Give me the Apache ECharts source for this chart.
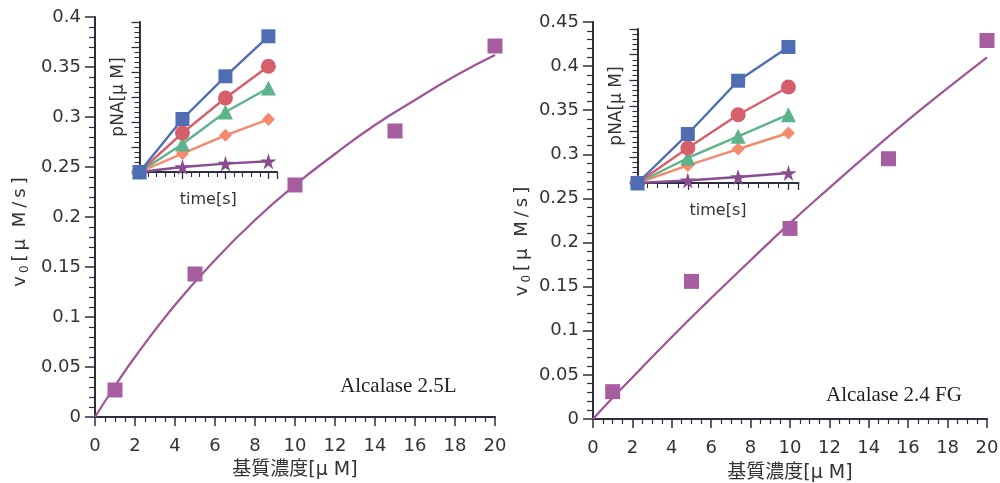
<!DOCTYPE html>
<html><head><meta charset="utf-8">
<script src="https://cdn.jsdelivr.net/npm/echarts@6/dist/echarts.min.js"></script>
<style>html,body{margin:0;padding:0;background:#fff}#c{width:1000px;height:483px}</style>
</head><body><div id="c"></div>
<script>
// ---- main panels: substrate concentration vs v0 ----
const substrate = [1, 5, 10, 15, 20];
const v0Left = [0.027, 0.143, 0.232, 0.286, 0.371];
const v0Right = [0.031, 0.156, 0.216, 0.295, 0.429];
// fitted curves
const fitX = [0, 1, 2, 4, 6, 8, 10, 12, 14, 16, 18, 20];
const fitLeft = [0, 0.031, 0.060, 0.112, 0.157, 0.197, 0.232, 0.263, 0.292, 0.317, 0.341, 0.362];
const fitRight = [0, 0.024, 0.047, 0.093, 0.137, 0.180, 0.222, 0.262, 0.301, 0.339, 0.375, 0.410];
// ---- insets: time vs pNA ----
const times = [0, 10, 20, 30];
const insetLeft = {
  blue:   [0, 53, 95.7, 135.7],
  red:    [0, 39, 74, 105.7],
  green:  [0, 28, 60, 84],
  orange: [0, 18.4, 36.7, 52.7],
  purple: [0, 5, 8.4, 10.7]
};
const insetRight = {
  blue:   [0, 47.7, 99.6, 132.5],
  red:    [0, 34.1, 66.5, 93.5],
  green:  [0, 24.4, 45.5, 66.5],
  orange: [0, 17.1, 33.1, 48.7],
  purple: [0, 2.5, 5.8, 9.7]
};
const panelLabels = ['Alcalase 2.5L', 'Alcalase 2.4 FG'];
const xName = '基質濃度[μ M]';
const yNameChars = ['v', '0', '[', 'μ', ' ', 'M', '/', 's', ']'];

const axisColor = '#2e2e3e';
const textColor = '#333';
const mainPurple = '#9e5496';
const latin = '"DejaVu Sans", "Noto Sans CJK JP"';
const insetStyle = {
  blue:   {color: '#4f6db2', symbol: 'rect', size: 14},
  red:    {color: '#d75f6b', symbol: 'circle', size: 15},
  green:  {color: '#5db38c', symbol: 'triangle', size: 15},
  orange: {color: '#f4896c', symbol: 'diamond', size: 13},
  purple: {color: '#8a4c90', symbol: 'path://M50,0 L61,35 L98,35 L68,57 L79,91 L50,70 L21,91 L32,57 L2,35 L39,35 Z', size: 16}
};

const yNameRich = yNameChars.map((c, i) => (i === 1 ? '{s|' + c + '}' : (c === ' ' ? '{sp|' + c + '}' : '{c|' + c + '}'))).join('');

const chart = echarts.init(document.getElementById('c'));

function mainX(gi, gap) {
  return {
    gridIndex: gi, type: 'value', min: 0, max: 20, interval: 2,
    name: xName, nameLocation: 'middle', nameGap: gap,
    nameTextStyle: {fontFamily: latin, fontSize: 19, color: textColor},
    axisLine: {show: true, lineStyle: {color: axisColor, width: 2}},
    axisTick: {show: true, inside: false, length: 9, lineStyle: {color: axisColor, width: 1.5}},
    minorTick: {show: true, splitNumber: 4, length: 5, lineStyle: {color: axisColor, width: 1.2}},
    axisLabel: {fontFamily: 'DejaVu Sans', fontSize: 18, color: textColor, margin: 20},
    splitLine: {show: false}
  };
}
function mainY(gi, max, gap, shift) {
  return {
    gridIndex: gi, type: 'value', min: 0, max: max, interval: 0.05,
    name: yNameRich, nameLocation: 'middle', nameGap: gap,
    nameTextStyle: {color: textColor, padding: [0, shift, 0, 0],
      rich: {
        c: {fontSize: 18, fontFamily: latin, color: textColor, padding: [0, 2, 0, 2]},
        sp: {fontSize: 18, fontFamily: latin, color: textColor, padding: [0, 1, 0, 1]},
        s: {fontSize: 12, fontFamily: 'DejaVu Sans', color: textColor, padding: [9, 2, 0, 1]}
      }},
    axisLine: {show: true, lineStyle: {color: axisColor, width: 2}},
    axisTick: {show: true, inside: false, length: 10, lineStyle: {color: axisColor, width: 1.5}},
    minorTick: {show: true, splitNumber: 5, length: 6, lineStyle: {color: axisColor, width: 1.2}},
    axisLabel: {fontFamily: 'DejaVu Sans', fontSize: 18, color: textColor, margin: 14},
    splitLine: {show: false}
  };
}
function insetX(gi) {
  return {
    gridIndex: gi, type: 'value', min: 0, max: 32, interval: 10,
    name: 'time[s]', nameLocation: 'middle', nameGap: 20,
    nameTextStyle: {fontFamily: 'DejaVu Sans', fontSize: 16, color: textColor},
    axisLine: {show: true, lineStyle: {color: axisColor, width: 2}},
    axisTick: {show: true, length: 7, lineStyle: {color: axisColor, width: 1.3}},
    minorTick: {show: true, splitNumber: 5, length: 5, lineStyle: {color: axisColor, width: 1.1}},
    axisLabel: {show: false}, splitLine: {show: false}
  };
}
function insetY(gi) {
  return {
    gridIndex: gi, type: 'value', min: 0, max: 150, interval: 25,
    name: 'pNA[μ M]', nameLocation: 'middle', nameGap: 12,
    nameTextStyle: {fontFamily: latin, fontSize: 17, color: textColor},
    axisLine: {show: true, lineStyle: {color: axisColor, width: 2}},
    axisTick: {show: true, length: 8, lineStyle: {color: axisColor, width: 1.3}},
    minorTick: {show: true, splitNumber: 5, length: 5, lineStyle: {color: axisColor, width: 1.1}},
    axisLabel: {show: false}, splitLine: {show: false}
  };
}

const series = [];
function addMain(gi, vals, fit, smooth) {
  series.push({
    type: 'line', xAxisIndex: gi, yAxisIndex: gi, data: fitX.map((x, i) => [x, fit[i]]),
    smooth: smooth, showSymbol: false, lineStyle: {color: mainPurple, width: 2.2}, z: 2, silent: true
  });
  series.push({
    type: 'scatter', xAxisIndex: gi, yAxisIndex: gi, data: substrate.map((x, i) => [x, vals[i]]),
    symbol: 'rect', symbolSize: 15, itemStyle: {color: '#a65ea0', opacity: 1}, z: 3, clip: false
  });
}
addMain(0, v0Left, fitLeft, true);
addMain(1, v0Right, fitRight, true);

function addInset(gi, obj) {
  ['purple', 'orange', 'green', 'red', 'blue'].forEach(k => {
    const st = insetStyle[k];
    series.push({
      type: 'line', xAxisIndex: gi, yAxisIndex: gi, data: times.map((t, i) => [t, obj[k][i]]),
      symbol: st.symbol, symbolSize: st.size, showSymbol: true, clip: false,
      lineStyle: {color: st.color, width: 2.4}, itemStyle: {color: st.color, opacity: 1}, z: 5
    });
  });
}
addInset(2, insetLeft);
addInset(3, insetRight);

const g = (o) => Object.assign({outerBoundsMode: 'none', containLabel: false}, o);

chart.setOption({
  backgroundColor: '#ffffff',
  animation: false,
  grid: [
    g({left: 95, top: 17, width: 400, height: 400}),
    g({left: 593, top: 22, width: 394, height: 397}),
    g({left: 139.5, top: 22, width: 137.5, height: 150}),
    g({left: 637.5, top: 29, width: 161, height: 154})
  ],
  xAxis: [mainX(0, 44), mainX(1, 45), insetX(2), insetX(3)],
  yAxis: [mainY(0, 0.4, 64, 30), mainY(1, 0.45, 60, 42), insetY(2), insetY(3)],
  series: series,
  graphic: [
    {type: 'text', x: 340, y: 386, style: {text: panelLabels[0], font: '21px "Liberation Serif"', fill: '#222', verticalAlign: 'middle'}},
    {type: 'text', x: 826, y: 395, style: {text: panelLabels[1], font: '21px "Liberation Serif"', fill: '#222', verticalAlign: 'middle'}}
  ]
});
</script></body></html>
